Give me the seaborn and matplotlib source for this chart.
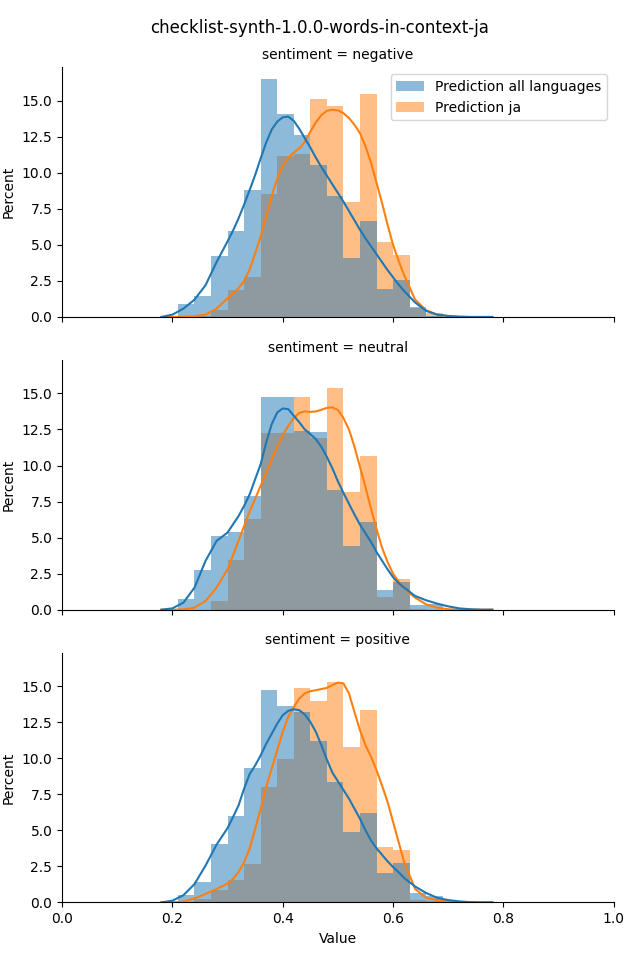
import numpy as np
import pandas as pd
import matplotlib
matplotlib.use("Agg")
import matplotlib.pyplot as plt
import seaborn as sns

title = "checklist-synth-1.0.0-words-in-context-ja"
sentiments = ["negative", "neutral", "positive"]
series = ["Prediction all languages", "Prediction ja"]
colors = ["#1f77b4", "#ff7f0e"]

# histogram bins (value axis) and bar heights in percent
bin_edges = [0.21, 0.24, 0.27, 0.30, 0.33, 0.36, 0.39, 0.42, 0.45,
             0.48, 0.51, 0.54, 0.57, 0.60, 0.63, 0.66, 0.69]

neg_all = [0.88, 1.44, 4.21, 5.95, 8.80, 16.5, 14.07, 12.6, 10.53, 8.38, 4.07, 6.64, 1.92, 2.55, 0.67, 0.10]
neg_ja = [0.0, 0.05, 0.46, 1.85, 2.78, 8.52, 11.16, 11.3, 15.1, 14.63, 7.96, 15.46, 5.19, 4.28, 0.65, 0.28]
neu_all = [0.74, 2.75, 5.12, 5.39, 7.89, 14.77, 14.77, 12.4, 12.34, 8.31, 4.42, 6.09, 1.37, 1.92, 0.32, 0.39]
neu_ja = [0.0, 0.0, 0.6, 3.45, 6.30, 12.27, 12.27, 14.77, 11.92, 15.4, 8.17, 10.67, 0.88, 2.13, 0.05, 0.0]
pos_all = [0.53, 1.44, 4.07, 6.02, 9.35, 14.7, 13.59, 13.24, 11.23, 8.38, 4.91, 6.23, 2.06, 2.75, 0.67, 0.46]
pos_ja = [0.05, 0.25, 0.88, 1.57, 2.69, 8.03, 9.98, 14.84, 14.0, 15.32, 10.81, 13.38, 3.87, 3.66, 0.2, 0.1]

kde_x = [0.18, 0.20, 0.22, 0.24, 0.26, 0.28,
         0.30, 0.31, 0.32, 0.33, 0.34, 0.35, 0.36, 0.37, 0.38, 0.39,
         0.40, 0.41, 0.42, 0.43, 0.44, 0.45, 0.46, 0.47, 0.48, 0.49,
         0.50, 0.51, 0.52, 0.53, 0.54, 0.55, 0.56, 0.57, 0.58, 0.59,
         0.60, 0.61, 0.62,
         0.64, 0.66, 0.68, 0.70, 0.72, 0.74, 0.76, 0.78]

neg_all_kde = [0, 0.16, 0.58, 1.2, 2.2, 3.8,
               5.25, 6.0, 6.85, 7.8, 8.8, 9.85, 11.0, 12.1, 13.0, 13.55,
               13.85, 13.9, 13.6, 13.05, 12.4, 11.75, 11.05, 10.4, 9.8, 9.2,
               8.6, 8.0, 7.35, 6.7, 6.05, 5.45, 4.9, 4.35, 3.8, 3.25,
               2.75, 2.25, 1.8,
               1.0, 0.42, 0.16, 0.07, 0.02, 0, 0, 0]
neg_ja_kde = [0, 0, 0.02, 0.05, 0.16, 0.58,
              1.3, 1.64, 2.0, 2.5, 3.3, 4.4, 5.6, 6.97, 8.4, 9.6,
              10.5, 11.05, 11.4, 11.7, 12.15, 12.85, 13.5, 14.0, 14.3, 14.37,
              14.33, 14.14, 13.8, 13.33, 12.75, 11.83, 10.7, 9.3, 7.9, 6.4,
              5.0, 3.9, 2.9,
              1.2, 0.46, 0.16, 0.05, 0.01, 0, 0, 0]
neu_all_kde = [0, 0.09, 0.49, 1.53, 3.38, 4.77,
               5.35, 5.93, 6.5, 7.2, 8.0, 9.05, 10.1, 11.6, 12.87, 13.68,
               13.96, 13.91, 13.45, 13.0, 12.5, 12.18, 11.83, 11.3, 10.6, 9.8,
               8.9, 8.1, 7.35, 6.6, 5.9, 5.3, 4.7, 4.0, 3.4, 2.8,
               2.25, 1.85, 1.53,
               0.95, 0.65, 0.42, 0.23, 0.09, 0.03, 0, 0]
neu_ja_kde = [0, 0, 0.02, 0.14, 0.6, 1.53,
              2.8, 3.8, 4.8, 5.8, 6.8, 7.7, 8.6, 9.5, 10.4, 11.3,
              12.1, 12.75, 13.3, 13.65, 13.75, 13.72, 13.75, 13.87, 14.0, 14.03,
              13.85, 13.3, 12.5, 11.3, 9.9, 8.5, 7.0, 5.6, 4.3, 3.3,
              2.5, 1.95, 1.5,
              0.83, 0.37, 0.14, 0.03, 0, 0, 0, 0]
pos_all_kde = [0, 0.12, 0.5, 1.27, 2.55, 4.0,
               5.16, 5.93, 6.74, 7.9, 8.9, 9.5, 10.2, 11.0, 11.7, 12.4,
               12.99, 13.29, 13.4, 13.33, 13.03, 12.52, 11.83, 10.9, 9.9, 9.0,
               8.4, 7.8, 7.2, 6.5, 5.8, 5.0, 4.3, 3.75, 3.3, 2.85,
               2.45, 2.1, 1.7,
               1.1, 0.65, 0.32, 0.16, 0.07, 0.02, 0, 0]
pos_ja_kde = [0, 0, 0.05, 0.28, 0.58, 0.93,
              1.3, 1.64, 2.1, 2.8, 3.73, 5.1, 6.5, 8.0, 9.28, 10.56,
              11.83, 12.87, 13.56, 14.14, 14.5, 14.65, 14.72, 14.8, 14.88, 15.07,
              15.25, 15.19, 14.5, 13.2, 11.94, 10.9, 10.1, 9.17, 8.1, 6.97,
              5.58, 4.19, 2.8,
              0.93, 0.32, 0.16, 0.07, 0.02, 0, 0, 0]

hist_values = {"negative": (neg_all, neg_ja),
               "neutral": (neu_all, neu_ja),
               "positive": (pos_all, pos_ja)}
kde_values = {"negative": (neg_all_kde, neg_ja_kde),
              "neutral": (neu_all_kde, neu_ja_kde),
              "positive": (pos_all_kde, pos_ja_kde)}

edges = np.array(bin_edges)
centers = (edges[:-1] + edges[1:]) / 2

fig, axes = plt.subplots(3, 1, figsize=(6.4, 9.6), sharex=True, sharey=True)
fig.subplots_adjust(left=0.097, right=0.959, top=0.930, bottom=0.060, hspace=0.172)

for i, (ax, sent) in enumerate(zip(axes, sentiments)):
    hist_df = pd.concat([
        pd.DataFrame({"Value": centers, "pct": vals, "series": name})
        for name, vals in zip(series, hist_values[sent])
    ], ignore_index=True)
    sns.histplot(data=hist_df, x="Value", weights="pct", hue="series",
                 hue_order=series, palette=colors, bins=list(bin_edges),
                 linewidth=0, alpha=0.5, legend=(i == 0), ax=ax)
    # orange curve first so the blue one sits on top
    for name, col, vals in list(zip(series, colors, kde_values[sent]))[::-1]:
        sns.lineplot(x=kde_x, y=vals, color=col, linewidth=1.5, ax=ax)
    ax.set_title("sentiment = {}".format(sent), fontsize=10)
    ax.set_ylabel("Percent")
    ax.set_xlabel("Value" if i == 2 else "")
    if i == 0:
        sns.move_legend(ax, "upper right", title=None, frameon=True)

axes[0].set_xlim(0, 1)
sns.despine(fig)
fig.suptitle(title, fontsize=12, y=0.980)

fig.savefig("out.png", dpi=100)
